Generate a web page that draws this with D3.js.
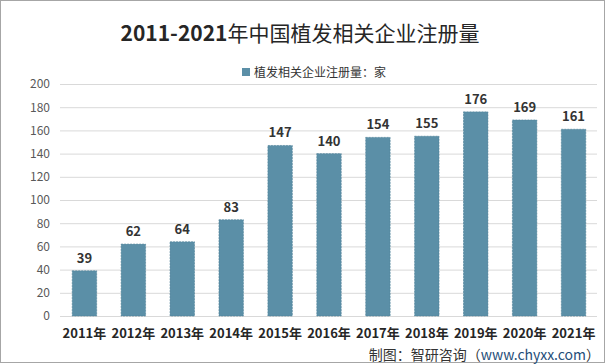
<!DOCTYPE html>
<html><head><meta charset="utf-8">
<script src="https://cdn.jsdelivr.net/npm/d3@7/dist/d3.min.js"></script>
<style>body{margin:0;background:#fff}svg{display:block}</style>
</head><body>
<script>
const categories = ["2011年","2012年","2013年","2014年","2015年","2016年","2017年","2018年","2019年","2020年","2021年"];
const values = [39,62,64,83,147,140,154,155,176,169,161];
const yTicks = [0,20,40,60,80,100,120,140,160,180,200];
const titleYears = "2011-2021";
const titleRest = "年中国植发相关企业注册量";
const legendLabel = "植发相关企业注册量：家";

const W = 606, H = 364;
const svg = d3.select("body").append("svg").attr("width", W).attr("height", H);
const font = "'Microsoft YaHei','Noto Sans CJK SC',sans-serif";

svg.append("rect").attr("x",0.5).attr("y",0.5).attr("width",W-2).attr("height",H-2)
  .attr("fill","#fff").attr("stroke","#a6a6a6").attr("stroke-width",1);

const x = d3.scaleBand().domain(categories).range([60, 598]).paddingInner(0.5).paddingOuter(0.25);
const y = d3.scaleLinear().domain([0,200]).range([316, 84]);

svg.append("g").selectAll("line").data(yTicks).join("line")
  .attr("x1",60).attr("x2",597).attr("y1",d=>y(d)+0.5).attr("y2",d=>y(d)+0.5)
  .attr("stroke","#d9d9d9").attr("stroke-width",1);

const yAxis = d3.axisLeft(y).tickValues(yTicks).tickSize(0).tickPadding(0);
const ga = svg.append("g").attr("transform","translate(50,0)").call(yAxis);
ga.select(".domain").remove();
ga.selectAll("text").attr("fill","#595959").attr("font-size",12).attr("font-family",font);

svg.append("g").selectAll("rect").data(values).join("rect")
  .attr("x",(d,i)=>x(categories[i])).attr("width",x.bandwidth())
  .attr("y",d=>y(d)).attr("height",d=>y(0)-y(d))
  .attr("fill","#5b8fa7").attr("stroke","#4e7f97").attr("stroke-width",0.6).attr("stroke-dasharray","2,1");

svg.append("g").selectAll("text").data(values).join("text")
  .attr("x",(d,i)=>x(categories[i])+x.bandwidth()/2).attr("y",d=>y(d)-8)
  .attr("text-anchor","middle").attr("font-size",13).attr("font-weight","bold")
  .attr("fill","#333").attr("font-family",font).text(d=>d);

const xAxis = d3.axisBottom(x).tickSize(0).tickPadding(0);
const gx = svg.append("g").attr("transform","translate(0,329)").call(xAxis);
gx.select(".domain").remove();
gx.selectAll("text").attr("fill","#262626").attr("font-size",13).attr("font-weight","bold").attr("font-family",font);

const t = svg.append("text").attr("x",300).attr("y",41).attr("text-anchor","middle")
  .attr("font-size",21).attr("fill","#262626").attr("font-family",font);
t.append("tspan").attr("font-weight","bold").text(titleYears);
t.append("tspan").text(titleRest);

svg.append("rect").attr("x",242).attr("y",68).attr("width",8).attr("height",8).attr("fill","#5b8fa7");
svg.append("text").attr("x",254).attr("y",77).attr("font-size",12).attr("fill","#333").attr("font-family",font).text(legendLabel);

const src = svg.append("text").attr("x",600).attr("y",360).attr("text-anchor","end")
  .attr("font-size",14).attr("fill","#333").attr("font-family",font);
src.append("tspan").text("制图：智研咨询（");
src.append("tspan").attr("fill","#1f4e79").text("www.chyxx.com");
src.append("tspan").text("）");
</script>
</body></html>
